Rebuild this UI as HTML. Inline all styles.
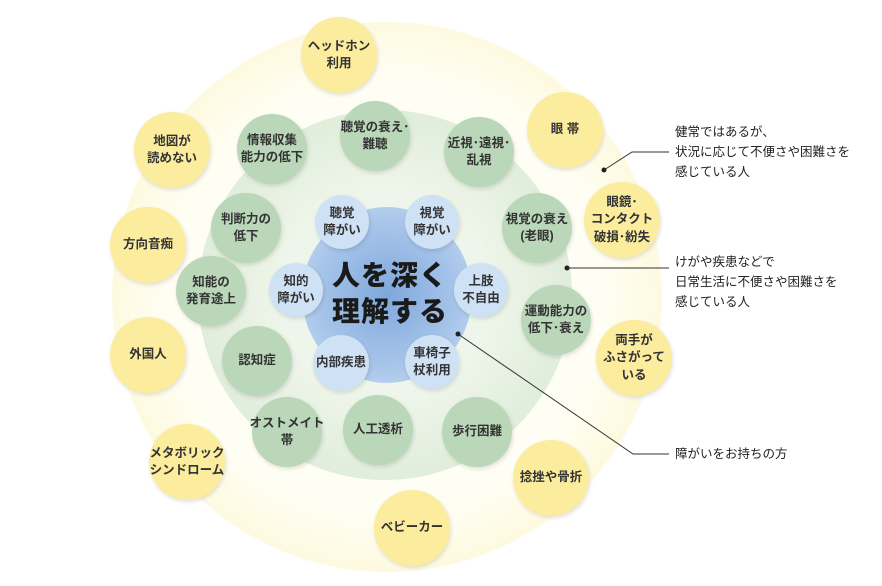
<!DOCTYPE html>
<html><head><meta charset="utf-8"><style>
body{margin:0;width:882px;height:586px;background:#fff;position:relative;overflow:hidden;font-family:"Liberation Sans","Noto Sans CJK JP",sans-serif;}
.c{position:absolute;border-radius:50%;display:flex;align-items:center;justify-content:center;text-align:center;font-size:12.5px;font-weight:bold;color:#333;line-height:1.4;white-space:nowrap;box-shadow:1px 2px 4px rgba(0,0,0,0.12);}
.b{background:#cfe2f5;}
.g{background:#bad7b9;}
.y{background:#fbec9e;}
.t{position:absolute;left:675px;font-size:12.5px;color:#222;line-height:20px;}
</style></head><body>
<div style="position:absolute;left:112px;top:22px;width:550px;height:550px;border-radius:50%;background:radial-gradient(circle,#fffef4 55%,#fdf8d4 80%,#fbf2bd 100%);"></div>
<div style="position:absolute;left:198px;top:110px;width:374px;height:370px;border-radius:50%;background:radial-gradient(circle,#eef5ea 40%,#dcebd6 80%,#d3e6cd 100%);"></div>
<div style="position:absolute;left:302px;top:207px;width:170px;height:176px;border-radius:50%;background:radial-gradient(circle,#7ea8dc 0%,#a9c6ea 60%,#cddff2 100%);"></div>
<div style="position:absolute;left:290px;top:258px;width:200px;text-align:center;font-size:28px;font-weight:900;color:#1a1a1a;line-height:36px;letter-spacing:1px;">人を深く<br>理解する</div>

<div class="c b" style="left:315px;top:195px;width:54px;height:54px">聴覚<br>障がい</div>
<div class="c b" style="left:405px;top:195px;width:54px;height:54px">視覚<br>障がい</div>
<div class="c b" style="left:269px;top:263px;width:54px;height:54px">知的<br>障がい</div>
<div class="c b" style="left:454px;top:263px;width:54px;height:54px">上肢<br>不自由</div>
<div class="c b" style="left:313px;top:335px;width:56px;height:56px">内部疾患</div>
<div class="c b" style="left:405px;top:335px;width:54px;height:54px">車椅子<br>杖利用</div>

<div class="c g" style="left:340px;top:101px;width:70px;height:70px">聴覚の衰え･<br>難聴</div>
<div class="c g" style="left:237px;top:114px;width:70px;height:70px">情報収集<br>能力の低下</div>
<div class="c g" style="left:444px;top:117px;width:70px;height:70px">近視･遠視･<br>乱視</div>
<div class="c g" style="left:211px;top:193px;width:70px;height:70px">判断力の<br>低下</div>
<div class="c g" style="left:502px;top:193px;width:70px;height:70px">視覚の衰え<br>(老眼)</div>
<div class="c g" style="left:176px;top:256px;width:70px;height:70px">知能の<br>発育途上</div>
<div class="c g" style="left:521px;top:285px;width:70px;height:70px">運動能力の<br>低下･衰え</div>
<div class="c g" style="left:222px;top:326px;width:70px;height:70px">認知症</div>
<div class="c g" style="left:252px;top:397px;width:70px;height:70px">オストメイト<br>帯</div>
<div class="c g" style="left:343px;top:395px;width:70px;height:70px">人工透析</div>
<div class="c g" style="left:442px;top:397px;width:70px;height:70px">歩行困難</div>

<div class="c y" style="left:301px;top:17px;width:76px;height:76px">ヘッドホン<br>利用</div>
<div class="c y" style="left:527px;top:92px;width:76px;height:76px">眼 帯</div>
<div class="c y" style="left:134px;top:112px;width:76px;height:76px">地図が<br>読めない</div>
<div class="c y" style="left:584px;top:182px;width:76px;height:76px">眼鏡･<br>コンタクト<br>破損･紛失</div>
<div class="c y" style="left:110px;top:207px;width:76px;height:76px">方向音痴</div>
<div class="c y" style="left:596px;top:320px;width:76px;height:76px">両手が<br>ふさがって<br>いる</div>
<div class="c y" style="left:110px;top:317px;width:76px;height:76px">外国人</div>
<div class="c y" style="left:149px;top:424px;width:76px;height:76px">メタボリック<br>シンドローム</div>
<div class="c y" style="left:513px;top:440px;width:76px;height:76px">捻挫や骨折</div>
<div class="c y" style="left:374px;top:490px;width:76px;height:76px">ベビーカー</div>

<svg style="position:absolute;left:0;top:0" width="882" height="586">
<g stroke="#333" stroke-width="1" fill="none">
<polyline points="604,170 632,152 669,152"/>
<polyline points="567,268 669,268"/>
<polyline points="458,334 633,454 669,454"/>
</g>
<g fill="#222"><circle cx="604" cy="170" r="2.5"/><circle cx="567" cy="268" r="2.5"/><circle cx="458" cy="334" r="2.5"/></g>
</svg>
<div class="t" style="top:122px">健常ではあるが、<br>状況に応じて不便さや困難さを<br>感じている人</div>
<div class="t" style="top:252px">けがや疾患などで<br>日常生活に不便さや困難さを<br>感じている人</div>
<div class="t" style="top:444px">障がいをお持ちの方</div>
</body></html>
